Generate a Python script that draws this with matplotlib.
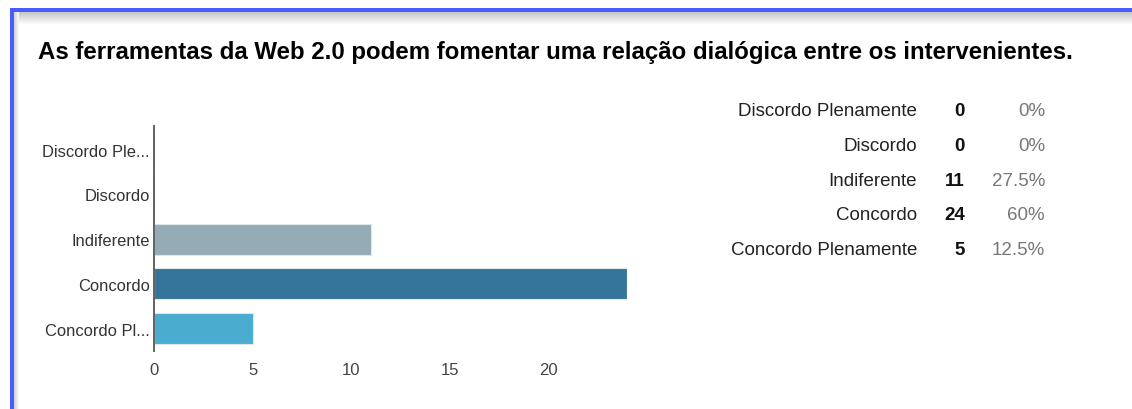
import matplotlib.pyplot as plt
from matplotlib.patches import Rectangle

plt.rcParams['font.family'] = ['Liberation Sans', 'DejaVu Sans']

title = "As ferramentas da Web 2.0 podem fomentar uma relação dialógica entre os intervenientes."
categories = ["Discordo Plenamente", "Discordo", "Indiferente", "Concordo", "Concordo Plenamente"]
short_labels = ["Discordo Ple...", "Discordo", "Indiferente", "Concordo", "Concordo Pl..."]
counts = [0, 0, 11, 24, 5]
percents = ["0%", "0%", "27.5%", "60%", "12.5%"]
bar_colors = ["#c9d5db", "#7d98a6", "#95abb5", "#36759b", "#4aaccf"]
xticks = [0, 5, 10, 15, 20]

W, H = 1132, 410
fig = plt.figure(figsize=(W / 100, H / 100), dpi=100)
fig.patch.set_facecolor("white")

# frame: blue border on top and left with a soft grey shadow
bg = fig.add_axes([0, 0, 1, 1])
bg.set_xlim(0, W)
bg.set_ylim(H, 0)
bg.axis("off")
for i in range(12):
    g = 0.78 + 0.018 * i
    bg.add_patch(Rectangle((13, 13 + i), W, 1, color=(g, g, g), lw=0))
for i in range(6):
    g = 0.80 + 0.033 * i
    bg.add_patch(Rectangle((13 + i, 13), 1, H, color=(g, g, g), lw=0))
bg.add_patch(Rectangle((10, 9), W, 4, color="#4a5cff", lw=0))
bg.add_patch(Rectangle((10, 9), 4, H, color="#4a5cff", lw=0))

bg.text(38, 52, title, fontsize=17.3, fontweight="bold", color="black",
        va="center", ha="left")

# table on the right
row_y = [111, 147, 182, 216, 251]
for y, cat, n, p in zip(row_y, categories, counts, percents):
    bg.text(917, y, cat, fontsize=13.5, color="#222222", ha="right", va="center")
    bg.text(965, y, str(n), fontsize=13.5, fontweight="bold", color="#111111",
            ha="right", va="center")
    bg.text(1045, y, p, fontsize=13.5, color="#777777", ha="right", va="center")

# bar chart
ax = fig.add_axes([154 / W, 1 - 352 / H, 473 / W, 225 / H])
ypos = list(range(len(categories)))
ax.barh(ypos, counts, height=0.69, color=bar_colors, edgecolor="#dde6ea", linewidth=0.8)
ax.set_ylim(4.5, -0.53)
ax.set_xlim(0, 24)
ax.set_yticks(ypos)
ax.set_yticklabels(short_labels, fontsize=11.9, color="#333333")
ax.set_xticks(xticks)
ax.set_xticklabels([str(t) for t in xticks], fontsize=12, color="#444444")
ax.tick_params(axis="both", length=0)
ax.tick_params(axis="y", pad=3)
ax.tick_params(axis="x", pad=8)
for s in ["top", "right", "bottom"]:
    ax.spines[s].set_visible(False)
ax.spines["left"].set_color("#555555")
ax.spines["left"].set_linewidth(1.3)
ax.set_facecolor("none")

fig.savefig("out.png", dpi=100)
